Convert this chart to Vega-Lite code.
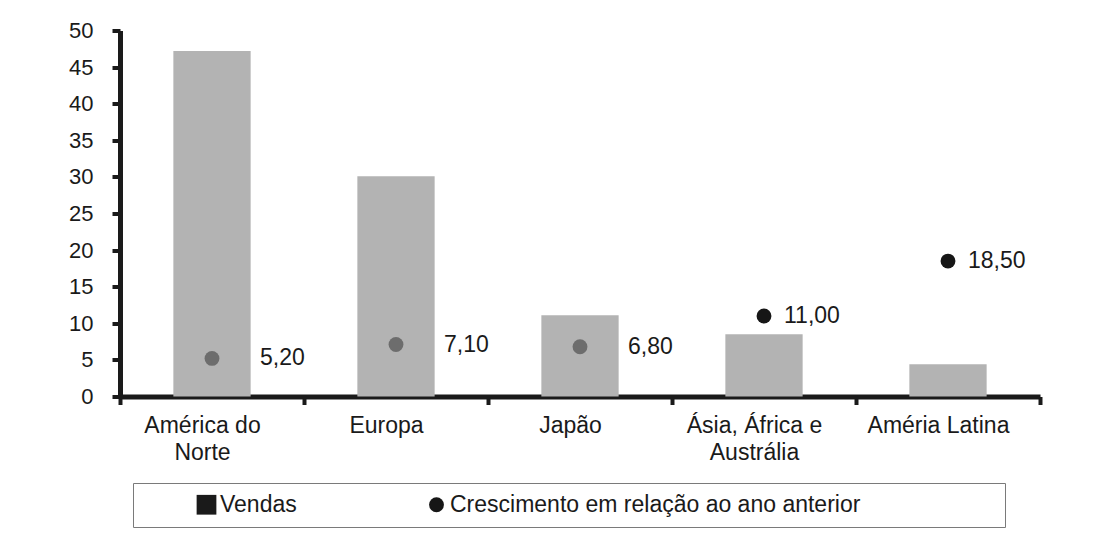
{
  "$schema": "https://vega.github.io/schema/vega-lite/v6.json",
  "width": 920,
  "height": 366,
  "autosize": {"type": "none"},
  "padding": {"left": 120, "top": 30.5, "right": 58, "bottom": 136.5},
  "background": "white",
  "config": {
    "locale": {"number": {"decimal": ",", "thousands": ".", "grouping": [3], "currency": ["R$", ""]}},
    "view": {"stroke": null},
    "font": "Liberation Sans",
    "legend": {
      "orient": "none", "legendX": 13, "legendY": 452.5,
      "direction": "horizontal", "columns": 2,
      "padding": 10, "strokeColor": "#7a7a7a",
      "symbolOffset": 52, "labelOffset": 2, "columnPadding": 76,
      "labelFontSize": 23, "labelFont": "Liberation Sans", "labelColor": "#1a1a1a",
      "labelLimit": 1000, "symbolStrokeWidth": 0, "symbolOpacity": 1
    }
  },
  "data": {
    "values": [
      {"region": "América do Norte", "sales": 47.2, "growth": 5.2},
      {"region": "Europa", "sales": 30.1, "growth": 7.1},
      {"region": "Japão", "sales": 11.1, "growth": 6.8},
      {"region": "Ásia, África e Austrália", "sales": 8.5, "growth": 11.0},
      {"region": "Améria Latina", "sales": 4.4, "growth": 18.5}
    ]
  },
  "encoding": {
    "x": {
      "field": "region", "type": "nominal", "sort": null,
      "scale": {"paddingInner": 0, "paddingOuter": 0},
      "axis": {
        "title": null, "tickBand": "extent", "grid": false,
        "domainColor": "#1a1a1a", "domainWidth": 5,
        "tickColor": "#1a1a1a", "tickWidth": 4, "tickSize": 8,
        "labelAngle": 0, "labelFontSize": 23, "labelPadding": 10, "labelLineHeight": 27,
        "labelOffset": -10, "labelColor": "#1a1a1a", "labelLimit": 300,
        "labelFont": "Liberation Sans",
        "labelExpr": "datum.value == 'América do Norte' ? ['América do', 'Norte'] : datum.value == 'Ásia, África e Austrália' ? ['Ásia, África e', 'Austrália'] : datum.value"
      }
    }
  },
  "layer": [
    {
      "mark": {"type": "bar", "width": {"band": 0.42}, "color": "#b3b3b3"},
      "encoding": {
        "y": {
          "field": "sales", "type": "quantitative",
          "scale": {"domain": [0, 50], "nice": false},
          "axis": {
            "title": null, "grid": false, "values": [0, 5, 10, 15, 20, 25, 30, 35, 40, 45, 50],
            "labelOverlap": false,
            "domainColor": "#1a1a1a", "domainWidth": 5,
            "tickColor": "#1a1a1a", "tickWidth": 4, "tickSize": 8,
            "labelFontSize": 22, "labelPadding": 19, "labelColor": "#1a1a1a",
            "labelFont": "Liberation Sans"
          }
        }
      }
    },
    {
      "mark": {"type": "point", "filled": true, "opacity": 1},
      "encoding": {
        "y": {
          "field": "growth", "type": "quantitative",
          "axis": {
            "title": null, "grid": false, "values": [0, 5, 10, 15, 20, 25, 30, 35, 40, 45, 50],
            "labelOverlap": false,
            "domainColor": "#1a1a1a", "domainWidth": 5,
            "tickColor": "#1a1a1a", "tickWidth": 4, "tickSize": 8,
            "labelFontSize": 22, "labelPadding": 19, "labelColor": "#1a1a1a",
            "labelFont": "Liberation Sans"
          }
        },
        "color": {
          "condition": {"test": "datum.growth < datum.sales", "value": "#6d6d6d"},
          "datum": "Crescimento em relação ao ano anterior",
          "type": "nominal",
          "scale": {
            "domain": ["Vendas", "Crescimento em relação ao ano anterior"],
            "range": ["#1a1a1a", "#161616"]
          },
          "legend": {
            "title": null,
            "labelExpr": "datum.value == 'Vendas' ? datum.label : datum.label + '\u00a0\u00a0\u00a0\u00a0\u00a0\u00a0\u00a0\u00a0\u00a0\u00a0\u00a0\u00a0\u00a0\u00a0\u00a0\u00a0\u00a0\u00a0\u00a0\u00a0\u00a0\u200b'"
          }
        },
        "shape": {
          "datum": "Crescimento em relação ao ano anterior",
          "type": "nominal",
          "scale": {
            "domain": ["Vendas", "Crescimento em relação ao ano anterior"],
            "range": ["square", "circle"]
          },
          "legend": {
            "title": null,
            "labelExpr": "datum.value == 'Vendas' ? datum.label : datum.label + '\u00a0\u00a0\u00a0\u00a0\u00a0\u00a0\u00a0\u00a0\u00a0\u00a0\u00a0\u00a0\u00a0\u00a0\u00a0\u00a0\u00a0\u00a0\u00a0\u00a0\u00a0\u200b'"
          }
        },
        "size": {
          "datum": "Crescimento em relação ao ano anterior",
          "type": "nominal",
          "scale": {
            "domain": ["Vendas", "Crescimento em relação ao ano anterior"],
            "range": [390, 220]
          },
          "legend": {
            "title": null,
            "labelExpr": "datum.value == 'Vendas' ? datum.label : datum.label + '\u00a0\u00a0\u00a0\u00a0\u00a0\u00a0\u00a0\u00a0\u00a0\u00a0\u00a0\u00a0\u00a0\u00a0\u00a0\u00a0\u00a0\u00a0\u00a0\u00a0\u00a0\u200b'"
          }
        }
      }
    },
    {
      "transform": [{"filter": "datum.growth < datum.sales"}],
      "mark": {"type": "text", "align": "left", "baseline": "middle", "dx": 48, "fontSize": 23, "color": "#1a1a1a", "font": "Liberation Sans"},
      "encoding": {
        "y": {
          "field": "growth", "type": "quantitative",
          "axis": {
            "title": null, "grid": false, "values": [0, 5, 10, 15, 20, 25, 30, 35, 40, 45, 50],
            "labelOverlap": false,
            "domainColor": "#1a1a1a", "domainWidth": 5,
            "tickColor": "#1a1a1a", "tickWidth": 4, "tickSize": 8,
            "labelFontSize": 22, "labelPadding": 19, "labelColor": "#1a1a1a",
            "labelFont": "Liberation Sans"
          }
        },
        "text": {"field": "growth", "type": "quantitative", "format": ".2f"}
      }
    },
    {
      "transform": [{"filter": "datum.growth >= datum.sales"}],
      "mark": {"type": "text", "align": "left", "baseline": "middle", "dx": 20, "fontSize": 23, "color": "#1a1a1a", "font": "Liberation Sans"},
      "encoding": {
        "y": {
          "field": "growth", "type": "quantitative",
          "axis": {
            "title": null, "grid": false, "values": [0, 5, 10, 15, 20, 25, 30, 35, 40, 45, 50],
            "labelOverlap": false,
            "domainColor": "#1a1a1a", "domainWidth": 5,
            "tickColor": "#1a1a1a", "tickWidth": 4, "tickSize": 8,
            "labelFontSize": 22, "labelPadding": 19, "labelColor": "#1a1a1a",
            "labelFont": "Liberation Sans"
          }
        },
        "text": {"field": "growth", "type": "quantitative", "format": ".2f"}
      }
    }
  ]
}
